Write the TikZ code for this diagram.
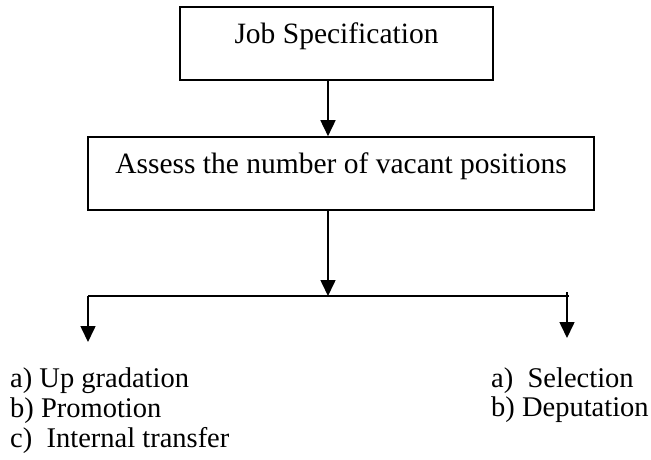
\documentclass[tikz,border=0pt]{standalone}
\usepackage{xcolor}
\usepackage{tikz}
\usepackage{fontspec}
\setmainfont{Liberation Serif}
\usetikzlibrary{arrows.meta,calc}
\tikzstyle{stagebox}=[
  draw, line width=1.6pt, inner ysep=0pt, text height=36pt, text depth=37pt,
  font=\fontsize{29.5}{31}\selectfont
]
\tikzstyle{flow}=[
  line width=1.6pt, -{Triangle[length=16pt,width=15pt]}
]
\tikzstyle{item}=[anchor=base west, inner sep=0pt, font=\fontsize{28.5}{30}\selectfont]

\begin{document}
\begin{tikzpicture}[x=1pt,y=-1pt]
      \useasboundingbox (0,0) rectangle (651,459);
      \node[stagebox, minimum width=313pt] (job) at (336.5,43.5) {Job Specification};
      \node[stagebox, minimum width=506pt] (assess) at (341,173.5) {Assess the number of vacant positions};
      \coordinate (fork) at (328,296);
      \coordinate (lend) at (88,296);
      \coordinate (rend) at (569,296);
      \coordinate (rtop) at (567,292);
      \coordinate (ltip) at (88,342);
      \coordinate (rtip) at (567,338);
      \draw[flow] (job.south -| fork) -- (assess.north -| fork);
      \draw[flow] (assess.south -| fork) -- (fork);
      \draw[line width=1.6pt] (lend) -- (rend);
      \draw[flow] (lend) -- (ltip);
      \draw[flow] (rtop) -- (rtip);
      % internal sources
      \node[item] (upgrade) at (10,387) {a) Up gradation};
      \node[item] (promote) at (10,417) {b) Promotion};
      \node[item] (transfer) at (10,447) {c)~~Internal transfer};
      % external sources
      \node[item] (select) at (491,387) {a)~~Selection};
      \node[item] (deput) at (491,416) {b) Deputation};
    \end{tikzpicture}
\end{document}
